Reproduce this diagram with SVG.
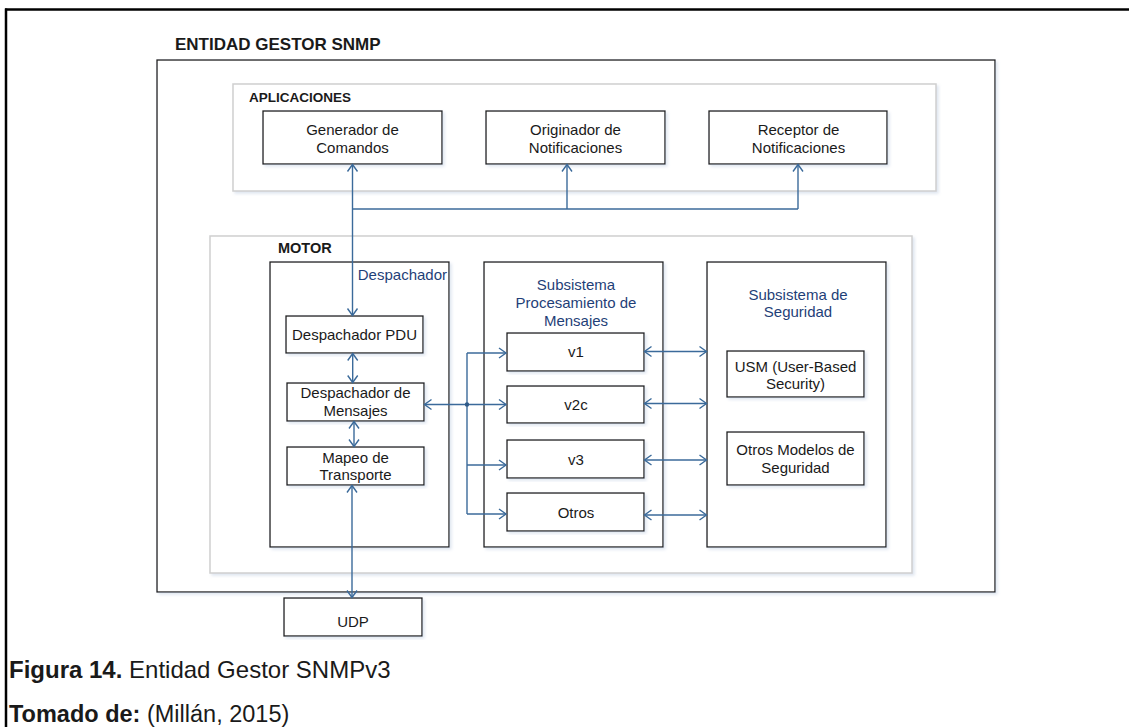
<svg xmlns="http://www.w3.org/2000/svg" width="1129" height="727" viewBox="0 0 1129 727">
  <style>
    text { font-family: "Liberation Sans", Arial, sans-serif; fill: #1a1a1a; }
    .t { font-size: 15px; text-anchor: middle; }
    .b { font-weight: bold; }
    .blue { fill: #1f3f78; font-size: 15px; }
    .box { fill: #ffffff; stroke: #1e1e1e; stroke-width: 1.3; }
    .grp { fill: #ffffff; stroke: #cfcfcf; stroke-width: 1.5; }
    .wire { fill: none; stroke: #3b6a9a; stroke-width: 1.4; }
  </style>
  <defs>
    <filter id="shade" x="-5%" y="-5%" width="115%" height="115%">
      <feDropShadow dx="2" dy="2" stdDeviation="1.5" flood-color="#b8c8de" flood-opacity="0.45"/>
    </filter>
    <marker id="chev" viewBox="-9 -7 11 14" refX="0" refY="0" markerWidth="11" markerHeight="14" markerUnits="userSpaceOnUse" orient="auto-start-reverse">
      <path d="M-7,-5 L0,0 L-7,5" fill="none" stroke="#3b6a9a" stroke-width="1.4"/>
    </marker>
  </defs>

  <rect width="1129" height="727" fill="#ffffff"/>

  <!-- page frame: top rule and left rule -->
  <line x1="5" y1="9.5" x2="1129" y2="9.5" stroke="#000" stroke-width="2.5"/>
  <line x1="6" y1="8.5" x2="6" y2="727" stroke="#000" stroke-width="2.5"/>

  <!-- outer entity -->
  <g id="entidad">
    <text x="175" y="50" class="b" font-size="17">ENTIDAD GESTOR SNMP</text>
    <rect x="157" y="60" width="838" height="532" class="box" filter="url(#shade)"/>
  </g>

  <!-- applications layer -->
  <g id="aplicaciones">
    <rect x="233" y="84" width="703" height="107" class="grp" filter="url(#shade)"/>
    <text x="249" y="102" class="b" font-size="13.5">APLICACIONES</text>
  </g>
  <g id="generador">
    <rect x="263" y="111" width="179" height="53" class="box" filter="url(#shade)"/>
    <text x="352.5" y="135" class="t" font-size="14">Generador de</text>
    <text x="352.5" y="153" class="t">Comandos</text>
  </g>
  <g id="originador">
    <rect x="486" y="111" width="179" height="53" class="box" filter="url(#shade)"/>
    <text x="575.5" y="135" class="t">Originador de</text>
    <text x="575.5" y="153" class="t">Notificaciones</text>
  </g>
  <g id="receptor">
    <rect x="709" y="111" width="178" height="53" class="box" filter="url(#shade)"/>
    <text x="798.5" y="135" class="t">Receptor de</text>
    <text x="798.5" y="153" class="t">Notificaciones</text>
  </g>

  <!-- engine -->
  <g id="motor">
    <rect x="210" y="236" width="702" height="337" class="grp" filter="url(#shade)"/>
    <text x="278" y="252.5" class="b" font-size="14.5">MOTOR</text>
  </g>
  <g id="despachador">
    <rect x="270" y="262" width="179" height="285" class="box" filter="url(#shade)"/>
    <text x="447" y="280" class="blue" text-anchor="end">Despachador</text>
  </g>
  <g id="despachador-pdu">
    <rect x="286" y="316" width="137" height="37" class="box" filter="url(#shade)"/>
    <text x="354.5" y="340" class="t">Despachador PDU</text>
  </g>
  <g id="despachador-mensajes">
    <rect x="287" y="383" width="137" height="38" class="box" filter="url(#shade)"/>
    <text x="355.5" y="398" class="t">Despachador de</text>
    <text x="355.5" y="416" class="t">Mensajes</text>
  </g>
  <g id="mapeo-transporte">
    <rect x="287" y="447" width="137" height="38" class="box" filter="url(#shade)"/>
    <text x="355.5" y="462.5" class="t">Mapeo de</text>
    <text x="355.5" y="480" class="t">Transporte</text>
  </g>

  <g id="procesamiento">
    <rect x="484" y="262" width="179" height="285" class="box" filter="url(#shade)"/>
    <text x="576" y="290" class="blue" text-anchor="middle">Subsistema</text>
    <text x="576" y="308" class="blue" text-anchor="middle">Procesamiento de</text>
    <text x="576" y="326" class="blue" text-anchor="middle">Mensajes</text>
  </g>
  <g id="v1">
    <rect x="507" y="333" width="137" height="38" class="box" filter="url(#shade)"/>
    <text x="576" y="357" class="t">v1</text>
  </g>
  <g id="v2c">
    <rect x="507" y="386" width="137" height="37" class="box" filter="url(#shade)"/>
    <text x="576" y="410" class="t">v2c</text>
  </g>
  <g id="v3">
    <rect x="507" y="440" width="137" height="38" class="box" filter="url(#shade)"/>
    <text x="576" y="464.5" class="t">v3</text>
  </g>
  <g id="otros">
    <rect x="507" y="493" width="137" height="38" class="box" filter="url(#shade)"/>
    <text x="576" y="517.5" class="t">Otros</text>
  </g>

  <g id="seguridad">
    <rect x="707" y="262" width="179" height="285" class="box" filter="url(#shade)"/>
    <text x="798" y="299.5" class="blue" text-anchor="middle">Subsistema de</text>
    <text x="798" y="317" class="blue" text-anchor="middle">Seguridad</text>
  </g>
  <g id="usm">
    <rect x="727" y="351" width="137" height="46" class="box" filter="url(#shade)"/>
    <text x="795.5" y="371.5" class="t">USM (User-Based</text>
    <text x="795.5" y="389" class="t">Security)</text>
  </g>
  <g id="otros-modelos">
    <rect x="727" y="432" width="137" height="53" class="box" filter="url(#shade)"/>
    <text x="795.5" y="455" class="t">Otros Modelos de</text>
    <text x="795.5" y="472.5" class="t">Seguridad</text>
  </g>

  <g id="udp">
    <rect x="284" y="598" width="138" height="38" class="box" filter="url(#shade)"/>
    <text x="353" y="627" class="t">UDP</text>
  </g>

  <!-- connectors -->
  <g id="connectors" class="wire">
    <!-- applications bus -->
    <line x1="352.5" y1="164.5" x2="352.5" y2="315.5" marker-start="url(#chev)" marker-end="url(#chev)"/>
    <line x1="352.5" y1="209" x2="798" y2="209"/>
    <line x1="567" y1="209" x2="567" y2="164.5" marker-end="url(#chev)"/>
    <line x1="798" y1="209" x2="798" y2="164.5" marker-end="url(#chev)"/>

    <!-- dispatcher internals -->
    <line x1="352.7" y1="353.5" x2="352.7" y2="382.5" marker-start="url(#chev)" marker-end="url(#chev)"/>
    <line x1="354" y1="421.5" x2="354" y2="446.5" marker-start="url(#chev)" marker-end="url(#chev)"/>
    <line x1="352" y1="485.5" x2="352" y2="597.5" marker-start="url(#chev)" marker-end="url(#chev)"/>

    <!-- message dispatcher to processing models -->
    <line x1="467" y1="404.5" x2="424.5" y2="404.5" marker-end="url(#chev)"/>
    <line x1="467" y1="353" x2="467" y2="514"/>
    <line x1="467" y1="353" x2="506" y2="353" marker-end="url(#chev)"/>
    <line x1="467" y1="404.5" x2="506" y2="404.5" marker-end="url(#chev)"/>
    <line x1="467" y1="465" x2="506" y2="465" marker-end="url(#chev)"/>
    <line x1="467" y1="514" x2="506" y2="514" marker-end="url(#chev)"/>
    <circle cx="467" cy="404.5" r="2.2" fill="#2f5a88" stroke="none"/>

    <!-- processing models to security subsystem -->
    <line x1="644.5" y1="351.5" x2="706.5" y2="351.5" marker-start="url(#chev)" marker-end="url(#chev)"/>
    <line x1="644.5" y1="403.5" x2="706.5" y2="403.5" marker-start="url(#chev)" marker-end="url(#chev)"/>
    <line x1="644.5" y1="460" x2="706.5" y2="460" marker-start="url(#chev)" marker-end="url(#chev)"/>
    <line x1="644.5" y1="515" x2="706.5" y2="515" marker-start="url(#chev)" marker-end="url(#chev)"/>
  </g>

  <!-- caption -->
  <text x="9" y="678" font-size="24"><tspan class="b">Figura 14.</tspan> Entidad Gestor SNMPv3</text>
  <text x="9" y="722" font-size="23.5"><tspan class="b">Tomado de:</tspan> (Millán, 2015)</text>
</svg>
